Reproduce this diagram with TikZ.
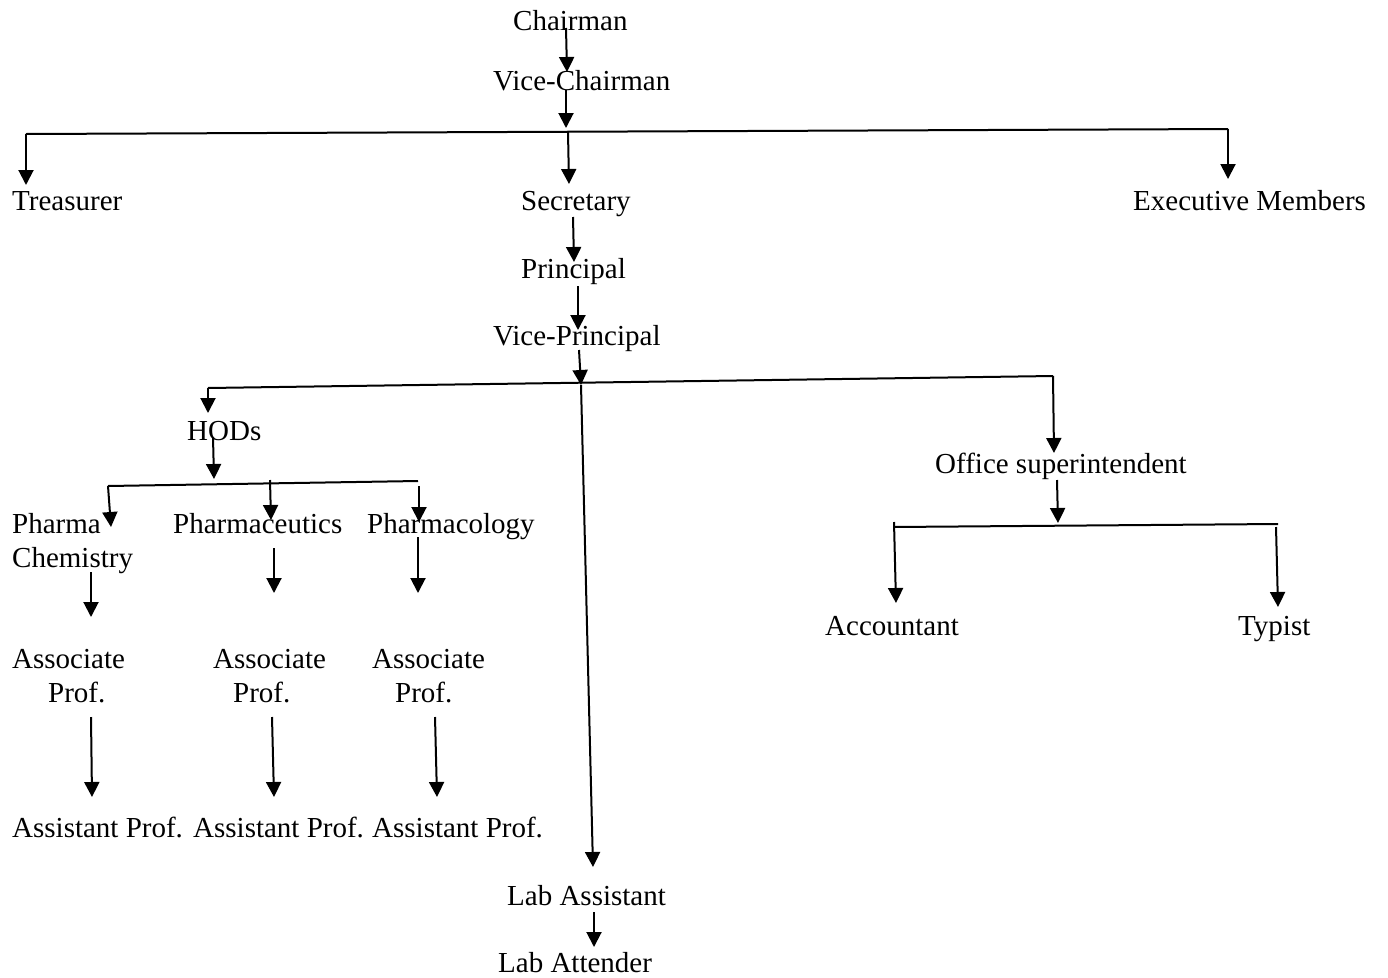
\documentclass[tikz,border=0pt]{standalone}
\usepackage{fontspec}
\setmainfont{Liberation Serif}
\usetikzlibrary{arrows.meta}
\tikzset{
  lbl/.style={inner sep=0pt, anchor=base west, font=\fontsize{29}{34}\selectfont},
  arr/.style={line width=2pt, -{Triangle[length=15pt,width=15pt]}},
  barline/.style={line width=2pt}
}
\begin{document}
\begin{tikzpicture}[x=1pt,y=-1pt]
\useasboundingbox (0,0) rectangle (1388,977);
% text nodes
\node[lbl] (chair) at (513,30) {Chairman};
\node[lbl] (vchair) at (493,90) {Vice-Chairman};
\node[lbl] (tres) at (12,210) {Treasurer};
\node[lbl] (sec) at (521,210) {Secretary};
\node[lbl] (exec) at (1133,210) {Executive Members};
\node[lbl] (prin) at (521,278) {Principal};
\node[lbl] (vprin) at (493,345) {Vice-Principal};
\node[lbl] (hods) at (187,440) {HODs};
\node[lbl] (office) at (935,473) {Office superintendent};
\node[lbl] (chem) at (12,533) {\vtop{\hbox{Pharma}\hbox{Chemistry}}};
\node[lbl] (ceut) at (173,533) {Pharmaceutics};
\node[lbl] (colo) at (367,533) {Pharmacology};
\node[lbl] (acct) at (825,635) {Accountant};
\node[lbl] (typ) at (1238,635) {Typist};
\node[lbl] (assoc1) at (12,668) {\vtop{\hbox{Associate}\hbox{\hspace*{36pt}Prof.}}};
\node[lbl] (assoc2) at (213,668) {\vtop{\hbox{Associate}\hbox{\hspace*{20pt}Prof.}}};
\node[lbl] (assoc3) at (372,668) {\vtop{\hbox{Associate}\hbox{\hspace*{23pt}Prof.}}};
\node[lbl] (asst1) at (12,837) {Assistant Prof.};
\node[lbl] (asst2) at (193,837) {Assistant Prof.};
\node[lbl] (asst3) at (372,837) {Assistant Prof.};
\node[lbl] (labas) at (507,905) {Lab Assistant};
\node[lbl] (labat) at (498,972) {Lab Attender};
% connector points
\coordinate (c1a) at (566,28);  \coordinate (c1b) at (567,72);
\coordinate (c2a) at (566,90);  \coordinate (c2b) at (566,128);
\coordinate (L1) at (26,134);   \coordinate (R1) at (1228,129);
\coordinate (t1) at (26,185);   \coordinate (t2) at (1228,179);
\coordinate (c3a) at (568,132); \coordinate (c3b) at (569,184);
\coordinate (c4a) at (573,217); \coordinate (c4b) at (574,262);
\coordinate (c5a) at (578,286); \coordinate (c5b) at (578,330);
\coordinate (c6a) at (579,350); \coordinate (c6b) at (581,385);
\coordinate (L2) at (208,388);  \coordinate (R2) at (1053,376);
\coordinate (t3) at (208,413);  \coordinate (t4) at (1054,453);
\coordinate (c7a) at (581,385); \coordinate (c7b) at (593,867);
\coordinate (c8a) at (594,912); \coordinate (c8b) at (594,947);
\coordinate (c9a) at (213,437); \coordinate (c9b) at (214,479);
\coordinate (L3) at (108,486);  \coordinate (R3) at (418,481);
\coordinate (t5) at (111,527);
\coordinate (c10a) at (270,480); \coordinate (c10b) at (271,520);
\coordinate (c11a) at (419,486); \coordinate (c11b) at (419,522);
\coordinate (d1a) at (91,572);  \coordinate (d1b) at (91,617);
\coordinate (d2a) at (274,548); \coordinate (d2b) at (274,593);
\coordinate (d3a) at (418,537); \coordinate (d3b) at (418,593);
\coordinate (e1a) at (91,717);  \coordinate (e1b) at (92,797);
\coordinate (e2a) at (272,717); \coordinate (e2b) at (274,797);
\coordinate (e3a) at (435,717); \coordinate (e3b) at (437,797);
\coordinate (c12a) at (1057,480); \coordinate (c12b) at (1058,523);
\coordinate (L4) at (893,527);  \coordinate (R4) at (1278,524);
\coordinate (c13a) at (894,522); \coordinate (c13b) at (896,603);
\coordinate (c14a) at (1276,527); \coordinate (c14b) at (1278,607);
% bars
\draw[barline] (L1) -- (R1);
\draw[barline] (L2) -- (R2);
\draw[barline] (L3) -- (R3);
\draw[barline] (L4) -- (R4);
% arrows
\draw[arr] (c1a) -- (c1b);
\draw[arr] (c2a) -- (c2b);
\draw[arr] (L1) -- (t1);
\draw[arr] (R1) -- (t2);
\draw[arr] (c3a) -- (c3b);
\draw[arr] (c4a) -- (c4b);
\draw[arr] (c5a) -- (c5b);
\draw[arr] (c6a) -- (c6b);
\draw[arr] (L2) -- (t3);
\draw[arr] (R2) -- (t4);
\draw[arr] (c7a) -- (c7b);
\draw[arr] (c8a) -- (c8b);
\draw[arr] (c9a) -- (c9b);
\draw[arr] (L3) -- (t5);
\draw[arr] (c10a) -- (c10b);
\draw[arr] (c11a) -- (c11b);
\draw[arr] (d1a) -- (d1b);
\draw[arr] (d2a) -- (d2b);
\draw[arr] (d3a) -- (d3b);
\draw[arr] (e1a) -- (e1b);
\draw[arr] (e2a) -- (e2b);
\draw[arr] (e3a) -- (e3b);
\draw[arr] (c12a) -- (c12b);
\draw[arr] (c13a) -- (c13b);
\draw[arr] (c14a) -- (c14b);
\end{tikzpicture}
\end{document}
